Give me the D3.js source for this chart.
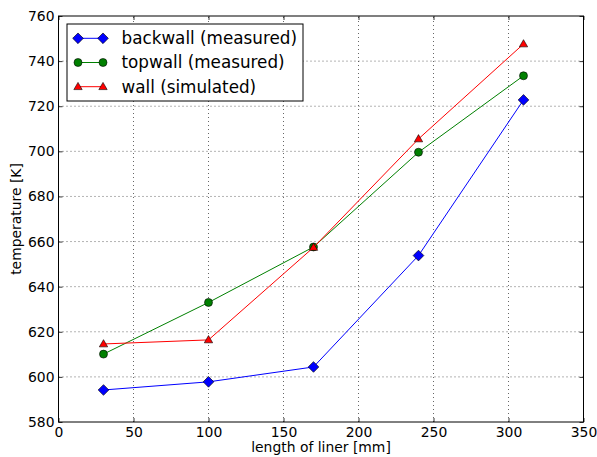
<!DOCTYPE html>
<html>
<head>
<meta charset="utf-8">
<script src="https://cdn.jsdelivr.net/npm/d3@7"></script>
<style>
body { margin: 0; background: #fff; }
svg { font-family: "DejaVu Sans", sans-serif; }
</style>
</head>
<body>
<svg width="597" height="457"></svg>
<script>
var width = 597;
var height = 457;

// data
var liner_length = [30, 100, 170, 240, 310];
var backwall = [594.2, 597.8, 604.4, 653.8, 722.8];
var topwall = [610.1, 633.0, 657.6, 699.6, 733.5];
var wall_sim = [614.6, 616.4, 657.4, 705.5, 747.6];
var x_ticks = [0, 50, 100, 150, 200, 250, 300, 350];
var y_ticks = [580, 600, 620, 640, 660, 680, 700, 720, 740, 760];

var series = [
    {name: "backwall (measured)", values: backwall, color: "#0000ff", marker: "diamond"},
    {name: "topwall (measured)", values: topwall, color: "#008000", marker: "circle"},
    {name: "wall (simulated)", values: wall_sim, color: "#ff0000", marker: "triangle"}
];

var margin = {left: 58.5, right: 13.5, top: 16, bottom: 35};
var font_size = 13.9;

const svg = d3.select("svg");

var x = d3.scaleLinear().domain([0, 350]).range([margin.left, width - margin.right]);
var y = d3.scaleLinear().domain([580, 760]).range([height - margin.bottom, margin.top]);

// grid
var grid = svg.append("g").attr("stroke", "#000").attr("stroke-width", 0.6)
    .attr("stroke-dasharray", "1,3");
grid.selectAll("line.vx")
    .data(x_ticks.slice(1, -1))
    .enter().append("line")
    .attr("x1", d => x(d)).attr("x2", d => x(d))
    .attr("y1", y(580)).attr("y2", y(760));
grid.selectAll("line.hy")
    .data(y_ticks.slice(1, -1))
    .enter().append("line")
    .attr("x1", x(0)).attr("x2", x(350))
    .attr("y1", d => y(d)).attr("y2", d => y(d));

// axes, ticks pointing inward on all four sides
function styleAxis(g) {
    g.select(".domain").remove();
    g.selectAll(".tick line").attr("stroke", "#000").attr("stroke-width", 0.8);
    g.selectAll(".tick text").attr("font-size", font_size).attr("fill", "#000")
        .attr("font-family", "DejaVu Sans, sans-serif");
}
svg.append("g").attr("transform", "translate(0," + y(580) + ")")
    .call(d3.axisBottom(x).tickValues(x_ticks).tickSize(-4).tickPadding(5))
    .call(styleAxis);
svg.append("g").attr("transform", "translate(0," + y(760) + ")")
    .call(d3.axisTop(x).tickValues(x_ticks).tickSize(-4).tickFormat(""))
    .call(styleAxis);
svg.append("g").attr("transform", "translate(" + x(0) + ",0)")
    .call(d3.axisLeft(y).tickValues(y_ticks).tickSize(-4).tickPadding(4))
    .call(styleAxis);
svg.append("g").attr("transform", "translate(" + x(350) + ",0)")
    .call(d3.axisRight(y).tickValues(y_ticks).tickSize(-4).tickFormat(""))
    .call(styleAxis);

// frame
svg.append("rect")
    .attr("x", x(0)).attr("y", y(760))
    .attr("width", x(350) - x(0)).attr("height", y(580) - y(760))
    .attr("fill", "none").attr("stroke", "#000").attr("stroke-width", 1);

// axis labels
svg.append("text")
    .attr("x", (x(0) + x(350)) / 2).attr("y", 452)
    .attr("text-anchor", "middle").attr("font-size", font_size)
    .text("length of liner [mm]");
svg.append("text")
    .attr("transform", "translate(20.5," + (y(580) + y(760)) / 2 + ") rotate(-90)")
    .attr("text-anchor", "middle").attr("font-size", font_size)
    .text("temperature [K]");

var symbols = {
    diamond: d3.symbol().type(d3.symbolSquare).size(57),
    circle: d3.symbol().type(d3.symbolCircle).size(50),
    triangle: d3.symbol().type(d3.symbolTriangle).size(30)
};
function markerTransform(s, px, py) {
    if (s.marker === "diamond") return "translate(" + px + "," + py + ") rotate(45)";
    if (s.marker === "triangle") return "translate(" + px + "," + (py + 0.5) + ")";
    return "translate(" + px + "," + py + ")";
}

var line = d3.line().x(d => x(d[0])).y(d => y(d[1]));

series.forEach(function(s) {
    var pts = liner_length.map((v, i) => [v, s.values[i]]);
    svg.append("path")
        .attr("d", line(pts))
        .attr("fill", "none").attr("stroke", s.color).attr("stroke-width", 1);
    svg.append("g").selectAll("path")
        .data(pts)
        .enter().append("path")
        .attr("d", symbols[s.marker]())
        .attr("transform", d => markerTransform(s, x(d[0]), y(d[1])))
        .attr("fill", s.color).attr("stroke", "#000").attr("stroke-width", 0.6);
});

// legend
var legend = svg.append("g");
legend.append("rect")
    .attr("x", 67).attr("y", 24).attr("width", 236).attr("height", 77)
    .attr("fill", "#fff").attr("stroke", "#000").attr("stroke-width", 1);
var rows = legend.selectAll("g.row")
    .data(series)
    .enter().append("g")
    .attr("transform", (d, i) => "translate(0," + (38.3 + i * 24.2) + ")");
rows.append("line")
    .attr("x1", 78).attr("x2", 103)
    .attr("stroke", d => d.color).attr("stroke-width", 1);
rows.each(function(s) {
    var g = d3.select(this);
    [78, 103].forEach(function(px) {
        g.append("path")
            .attr("d", symbols[s.marker]())
            .attr("transform", markerTransform(s, px, 0))
            .attr("fill", s.color).attr("stroke", "#000").attr("stroke-width", 0.6);
    });
});
rows.append("text")
    .attr("x", 121.5).attr("y", 0).attr("dy", "0.35em")
    .attr("font-size", 16.8)
    .text(d => d.name);
</script>
</body>
</html>
